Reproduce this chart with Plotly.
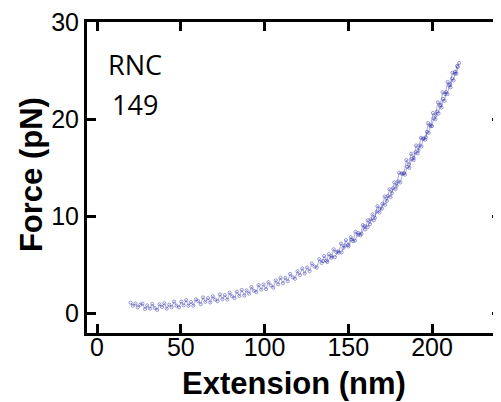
import plotly.graph_objects as go

# stretching branch (extension nm, force pN)
ext_up = [20.0, 21.4, 22.9, 24.3, 25.8, 27.1, 28.7, 30.0, 31.6, 33.0, 34.4, 35.9,
          37.3, 38.8, 40.2, 41.6, 43.1, 44.5, 46.0, 47.4, 48.9, 50.3, 51.7, 53.2,
          54.6, 56.1, 57.5, 59.0, 60.4, 61.9, 63.3, 64.7, 66.2, 67.6, 69.1, 70.5,
          72.0, 73.4, 74.9, 76.3, 77.8, 79.2, 80.6, 82.1, 83.5, 85.0, 86.4, 87.9,
          89.3, 90.8, 92.2, 93.6, 95.1, 96.5, 98.0, 99.4, 100.9, 102.3, 103.8, 105.2,
          106.7, 108.1, 109.5, 111.0, 112.4, 113.9, 115.3, 116.8, 118.2, 119.7, 121.1, 122.5,
          124.0, 125.4, 126.9, 128.3, 129.8, 131.2, 132.7, 134.1, 135.6, 137.0, 138.4, 139.9,
          141.3, 142.8, 144.2, 145.7, 147.1, 148.6, 150.0, 151.5, 152.9, 154.3, 155.8, 157.2,
          158.7, 160.1, 161.6, 163.0, 164.5, 165.9, 167.4, 168.8, 170.2, 171.7, 173.1, 174.6,
          176.0, 177.5, 178.9, 180.4, 181.8, 183.3, 184.7, 186.1, 187.6, 189.0, 190.5, 191.9,
          193.4, 194.8, 196.3, 197.7, 199.2, 200.6, 202.1, 203.5, 205.0, 206.4, 207.9, 209.3,
          210.8, 212.2, 213.7, 215.0, 216.2]
force_up = [1.1, 0.78, 1.02, 0.63, 0.89, 1.0, 0.46, 0.82, 0.49, 0.97, 0.56, 0.36,
            0.93, 0.66, 1.05, 0.48, 0.9, 0.64, 1.22, 0.8, 0.63, 1.21, 0.83, 1.36,
            0.79, 1.17, 0.8, 1.45, 1.26, 0.95, 1.65, 1.19, 1.58, 1.13, 1.77, 1.42,
            1.26, 1.95, 1.45, 1.89, 1.43, 2.13, 1.77, 1.58, 2.24, 1.8, 2.42, 1.84,
            2.36, 2.03, 2.71, 2.33, 2.2, 2.92, 2.45, 2.97, 2.5, 3.22, 2.88, 2.65,
            3.4, 3.0, 3.66, 3.11, 3.67, 3.32, 4.07, 3.72, 3.57, 4.34, 3.95, 4.63,
            4.11, 4.73, 4.36, 5.14, 4.83, 4.73, 5.59, 5.2, 5.91, 5.43, 6.1, 5.73,
            6.61, 6.33, 6.25, 7.2, 6.75, 7.55, 7.05, 7.85, 7.45, 8.4, 8.1, 8.05,
            9.1, 8.65, 9.6, 9.2, 10.2, 9.85, 11.05, 10.8, 10.8, 12.05, 11.6, 12.8,
            12.4, 13.5, 13.15, 14.5, 14.4, 14.45, 15.8, 15.35, 16.45, 16.0, 17.3, 16.8,
            18.1, 18.0, 18.15, 19.6, 19.3, 20.65, 20.4, 21.75, 21.5, 22.8, 22.6, 23.85,
            23.6, 24.8, 24.7, 25.5, 25.8]

# relaxing branch
ext_down = [215.5, 214.6, 213.8, 212.9, 212.0, 211.1, 210.2, 209.3, 208.4, 207.5, 206.6, 205.7,
            204.8, 203.9, 203.0, 202.0, 201.0, 200.0, 199.0, 198.0, 197.0, 195.9, 194.8, 193.7,
            192.6, 191.4, 190.2, 189.0, 187.8, 186.5, 185.2, 183.9, 182.5, 181.1, 179.7, 178.2,
            176.7, 175.2, 173.6, 172.0, 170.4, 168.7, 167.0, 165.2, 163.4, 161.6, 159.8, 157.9,
            156.0, 154.0, 152.0, 150.0, 148.0, 146.0, 144.0, 142.0, 140.0, 137.5, 135.0]
force_down = [25.4, 24.7, 24.9, 24.0, 24.2, 23.3, 23.5, 22.6, 22.8, 21.9, 22.1, 21.2,
              21.4, 20.6, 20.8, 20.0, 20.1, 19.3, 19.4, 18.6, 18.7, 17.9, 18.0, 17.2,
              17.3, 16.5, 16.6, 15.8, 15.9, 15.0, 15.1, 14.3, 14.4, 13.5, 13.6, 12.8,
              12.9, 12.0, 12.1, 11.2, 11.3, 10.4, 10.5, 9.6, 9.7, 8.9, 9.0, 8.2,
              8.3, 7.5, 7.6, 6.9, 7.0, 6.3, 6.4, 5.8, 5.9, 5.3, 5.4]

x_ticks = [0, 50, 100, 150, 200]
y_ticks = [0, 10, 20, 30]

col = "rgba(50,50,170,0.6)"
line_col = "rgba(50,50,170,0.45)"
fig = go.Figure()
fig.add_trace(go.Scatter(
    x=ext_up, y=force_up, mode="lines+markers",
    line=dict(color=line_col, width=0.9),
    marker=dict(symbol="circle-open", size=3.2, color=col, line=dict(width=0.8)),
    showlegend=False, hoverinfo="skip"))
fig.add_trace(go.Scatter(
    x=ext_down, y=force_down, mode="lines+markers", yaxis="y2",
    line=dict(color=line_col, width=0.9),
    marker=dict(symbol="circle-open", size=3.2, color=col, line=dict(width=0.8)),
    showlegend=False, hoverinfo="skip"))

tickfont = dict(family="Liberation Sans, Arial", size=25, color="black")
# the page body adds an 8px margin, so the figure is 8px smaller on each side
fig.update_layout(
    width=493, height=394,
    margin=dict(l=79, r=0, t=8, b=69),
    paper_bgcolor="white", plot_bgcolor="white",
    xaxis=dict(range=[-6.0, 241.2], tickvals=x_ticks, ticks="inside", ticklen=9,
               tickwidth=2.5, tickcolor="black", showline=True, linewidth=3,
               linecolor="black", mirror="ticks", showgrid=False, zeroline=False,
               tickfont=tickfont, ticklabelstandoff=-10),
    yaxis=dict(range=[-2.02, 30.03], tickvals=y_ticks, ticks="inside", ticklen=9,
               tickwidth=2.5, tickcolor="black", showline=True, linewidth=3,
               linecolor="black", showgrid=False, zeroline=False,
               tickfont=tickfont, ticklabeloverflow="allow"),
    yaxis2=dict(range=[-2.02, 30.03], tickvals=y_ticks, ticks="inside", ticklen=9,
                tickwidth=2.5, tickcolor="black", showline=False, side="right",
                overlaying="y", showticklabels=False, showgrid=False, zeroline=False),
    annotations=[
        dict(text="<b>Extension (nm)</b>", xref="paper", yref="paper", x=0.5, y=-0.161,
             showarrow=False, xanchor="center", yanchor="middle",
             font=dict(family="Liberation Sans, Arial", size=31, color="black")),
        dict(text="<b>Force (pN)</b>", xref="paper", yref="paper", x=-0.135, y=0.508,
             showarrow=False, xanchor="center", yanchor="middle", textangle=-90,
             font=dict(family="Liberation Sans, Arial", size=31, color="black")),
        dict(text="RNC", xref="x", yref="y", x=22.7, y=25.6, showarrow=False,
             font=dict(family="Open Sans, Arial", size=27, color="black")),
        dict(text="149", xref="x", yref="y", x=22.4, y=21.5, showarrow=False,
             font=dict(family="Open Sans, Arial", size=27, color="black")),
    ],
)

fig.write_html("out.html")
